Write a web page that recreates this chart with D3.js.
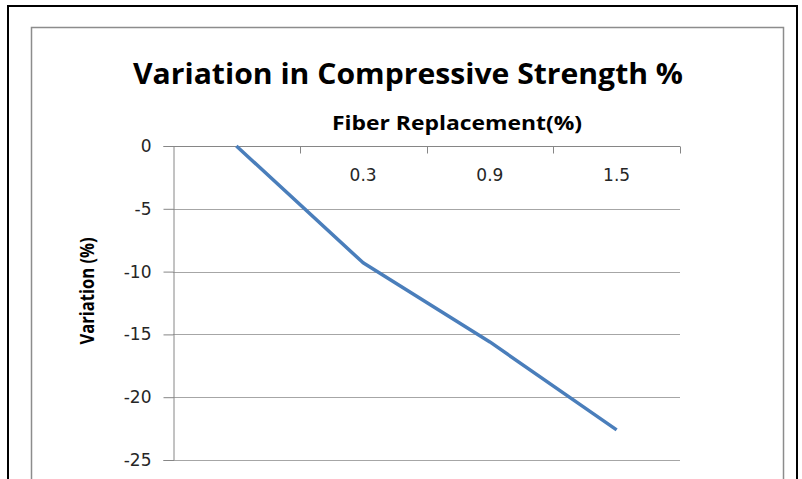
<!DOCTYPE html>
<html>
<head>
<meta charset="utf-8">
<script src="https://cdn.jsdelivr.net/npm/d3@7"></script>
<style>
  html, body { margin: 0; padding: 0; background: #fff; }
  svg { display: block; }
</style>
</head>
<body>
<script>
// Fiber replacement levels (first category unlabeled) and the strength change
const categories = ["", "0.3", "0.9", "1.5"];
const variation = [0, -9.3, -15.6, -22.6];
const yTicks = [0, -5, -10, -15, -20, -25];

const W = 802, H = 479;
const plot = { left: 173, right: 680, top: 146, bottom: 460 };

const svg = d3.select("body").append("svg")
  .attr("width", W).attr("height", H);

// outer frame and chart-area border
svg.append("rect")
  .attr("x", 8).attr("y", 6).attr("width", 789).attr("height", 500)
  .attr("fill", "none").attr("stroke", "#000").attr("stroke-width", 2);
svg.append("rect")
  .attr("x", 31.5).attr("y", 27.5).attr("width", 752).attr("height", 480)
  .attr("fill", "#fff").attr("stroke", "#8c8c8c").attr("stroke-width", 1.5);

const x = d3.scaleBand()
  .domain(categories.map((c, i) => i))
  .range([plot.left, plot.right])
  .paddingInner(0).paddingOuter(0);

const y = d3.scaleLinear()
  .domain([-25, 0])
  .range([plot.bottom, plot.top]);

const gridColor = "#a6a6a6";
const axisColor = "#868686";
const tickFont = "DejaVu Sans, Verdana, sans-serif";

// horizontal gridlines
svg.append("g")
  .selectAll("line")
  .data(yTicks.filter(d => d !== 0))
  .join("line")
  .attr("x1", plot.left).attr("x2", plot.right)
  .attr("y1", d => Math.round(y(d)) + 0.5).attr("y2", d => Math.round(y(d)) + 0.5)
  .attr("stroke", gridColor).attr("stroke-width", 1);

// value axis on the left
const yAxis = svg.append("g")
  .attr("transform", `translate(${plot.left + 0.5},0)`)
  .call(d3.axisLeft(y).tickValues(yTicks).tickSize(10).tickPadding(12).tickFormat(d => String(d)));
yAxis.select(".domain").attr("stroke", axisColor);
yAxis.selectAll(".tick line").attr("stroke", axisColor);
yAxis.selectAll(".tick text")
  .attr("font-family", tickFont)
  .attr("font-size", 17)
  .attr("fill", "#262626");

// category axis along the zero line
const xAxis = svg.append("g")
  .attr("transform", `translate(0,${Math.round(y(0)) + 0.5})`);
const bounds = d3.range(categories.length + 1).map(i => plot.left + i * x.bandwidth());
xAxis.append("line")
  .attr("x1", plot.left).attr("x2", plot.right)
  .attr("stroke", axisColor);
xAxis.selectAll("line.tick")
  .data(bounds.slice(1))
  .join("line")
  .attr("class", "tick")
  .attr("x1", d => Math.round(d) + 0.5).attr("x2", d => Math.round(d) + 0.5)
  .attr("y1", 0).attr("y2", 7)
  .attr("stroke", axisColor);
xAxis.selectAll("text")
  .data(categories)
  .join("text")
  .attr("x", (d, i) => x(i) + x.bandwidth() / 2)
  .attr("y", 34)
  .attr("text-anchor", "middle")
  .attr("font-family", tickFont)
  .attr("font-size", 17)
  .attr("fill", "#262626")
  .text(d => d);

// data line
const line = d3.line()
  .x((d, i) => x(i) + x.bandwidth() / 2)
  .y(d => y(d));
svg.append("path")
  .datum(variation)
  .attr("d", line)
  .attr("fill", "none")
  .attr("stroke", "#4a7ebb")
  .attr("stroke-width", 3.5)
  .attr("stroke-linejoin", "round");

// titles
svg.append("text")
  .attr("x", 408).attr("y", 84)
  .attr("text-anchor", "middle")
  .attr("font-family", "Open Sans, sans-serif")
  .attr("font-weight", "bold")
  .attr("font-size", 29)
  .attr("textLength", 550).attr("lengthAdjust", "spacingAndGlyphs")
  .attr("fill", "#000")
  .text("Variation in Compressive Strength %");

svg.append("text")
  .attr("x", 457).attr("y", 130)
  .attr("text-anchor", "middle")
  .attr("font-family", "Open Sans, sans-serif")
  .attr("font-weight", "bold")
  .attr("font-size", 20)
  .attr("textLength", 250).attr("lengthAdjust", "spacingAndGlyphs")
  .attr("fill", "#000")
  .text("Fiber Replacement(%)");

svg.append("text")
  .attr("transform", "translate(94,291) rotate(-90)")
  .attr("text-anchor", "middle")
  .attr("font-family", "Open Sans, sans-serif")
  .attr("font-weight", "bold")
  .attr("font-size", 19)
  .attr("textLength", 107).attr("lengthAdjust", "spacingAndGlyphs")
  .attr("fill", "#000")
  .text("Variation (%)");
</script>
</body>
</html>
